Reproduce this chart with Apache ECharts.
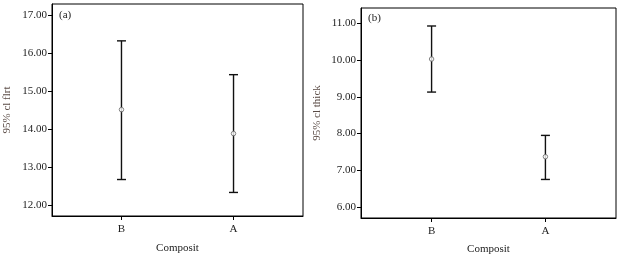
<!DOCTYPE html>
<html><head><meta charset="utf-8">
<script src="https://cdn.jsdelivr.net/npm/echarts@6/dist/echarts.min.js"></script>
<style>html,body{margin:0;padding:0;background:#fff}#c{width:621px;height:257px}</style>
</head><body><div id="c"></div>
<script>
// Data
const categories = ['B', 'A'];
const catPos = [1, 2];
const flrtMean = [14.52, 13.89];
const flrtLow = [12.68, 12.34];
const flrtHigh = [16.33, 15.44];
const thickMean = [10.03, 7.37];
const thickLow = [9.13, 6.75];
const thickHigh = [10.93, 7.95];
const flrtTicks = [12, 13, 14, 15, 16, 17];
const thickTicks = [6, 7, 8, 9, 10, 11];

const FONT = '"Liberation Serif", "DejaVu Serif", serif';
const chart = echarts.init(document.getElementById('c'), null, {renderer: 'canvas'});

function errSeries(gi, low, high) {
  return {
    type: 'custom', xAxisIndex: gi, yAxisIndex: gi,
    data: catPos.map((x, i) => [x, low[i], high[i]]),
    renderItem: function (params, api) {
      const x = api.value(0);
      const lo = api.coord([x, api.value(1)]);
      const hi = api.coord([x, api.value(2)]);
      const hw = 4.5;
      const st = {stroke: '#111', lineWidth: 1.4};
      return {type: 'group', children: [
        {type: 'line', shape: {x1: lo[0], y1: lo[1], x2: hi[0], y2: hi[1]}, style: st},
        {type: 'line', shape: {x1: lo[0] - hw, y1: lo[1], x2: lo[0] + hw, y2: lo[1]}, style: st},
        {type: 'line', shape: {x1: hi[0] - hw, y1: hi[1], x2: hi[0] + hw, y2: hi[1]}, style: st}
      ]};
    },
    z: 2
  };
}
function meanSeries(gi, mean) {
  return {
    type: 'scatter', xAxisIndex: gi, yAxisIndex: gi,
    data: catPos.map((x, i) => [x, mean[i]]),
    symbol: 'circle', symbolSize: 4.5,
    itemStyle: {color: '#fff', borderColor: '#666', borderWidth: 1},
    z: 3
  };
}
function xAxis(gi, gap) {
  return {
    type: 'value', gridIndex: gi, min: 0.38, max: 2.62,
    name: 'Composit', nameLocation: 'middle', nameGap: gap,
    nameTextStyle: {fontFamily: FONT, fontSize: 11, color: '#222'},
    axisLine: {show: true, lineStyle: {color: '#000', width: 1}},
    axisTick: {show: true, customValues: catPos, length: 4, lineStyle: {color: '#000'}},
    axisLabel: {customValues: catPos, margin: 8, fontFamily: FONT, fontSize: 11, color: '#222',
      formatter: v => categories[catPos.indexOf(Math.round(v))] || ''},
    splitLine: {show: false}
  };
}
function yAxis(gi, min, max, ticks, name, gap) {
  return {
    type: 'value', gridIndex: gi, min: min, max: max,
    name: name, nameLocation: 'middle', nameGap: gap,
    nameTextStyle: {fontFamily: FONT, fontSize: 11, color: '#5a4b45'},
    axisLine: {show: true, lineStyle: {color: '#000', width: 1}},
    axisTick: {show: true, customValues: ticks, length: 4, lineStyle: {color: '#000'}},
    axisLabel: {customValues: ticks, margin: 5, fontFamily: FONT, fontSize: 11, color: '#222',
      formatter: v => v.toFixed(2)},
    splitLine: {show: false}
  };
}
chart.setOption({
  animation: false,
  backgroundColor: '#fff',
  grid: [
    {left: 52, right: 318, top: 4, bottom: 41, outerBoundsMode: 'none', containLabel: false, show: true, borderColor: '#000', borderWidth: 1, backgroundColor: 'transparent'},
    {left: 361, right: 5, top: 8, bottom: 39, outerBoundsMode: 'none', containLabel: false, show: true, borderColor: '#000', borderWidth: 1, backgroundColor: 'transparent'}
  ],
  xAxis: [xAxis(0, 27), xAxis(1, 26)],
  yAxis: [
    yAxis(0, 11.72, 17.3, flrtTicks, '95% cl flrt', 39),
    yAxis(1, 5.70, 11.42, thickTicks, '95% cl thick', 38)
  ],
  graphic: [
    {type: 'text', left: 59, top: 10, style: {text: '(a)', font: '11px ' + FONT, fill: '#222'}},
    {type: 'text', left: 368, top: 13, style: {text: '(b)', font: '11px ' + FONT, fill: '#222'}}
  ],
  series: [
    errSeries(0, flrtLow, flrtHigh), meanSeries(0, flrtMean),
    errSeries(1, thickLow, thickHigh), meanSeries(1, thickMean)
  ]
});
</script></body></html>
